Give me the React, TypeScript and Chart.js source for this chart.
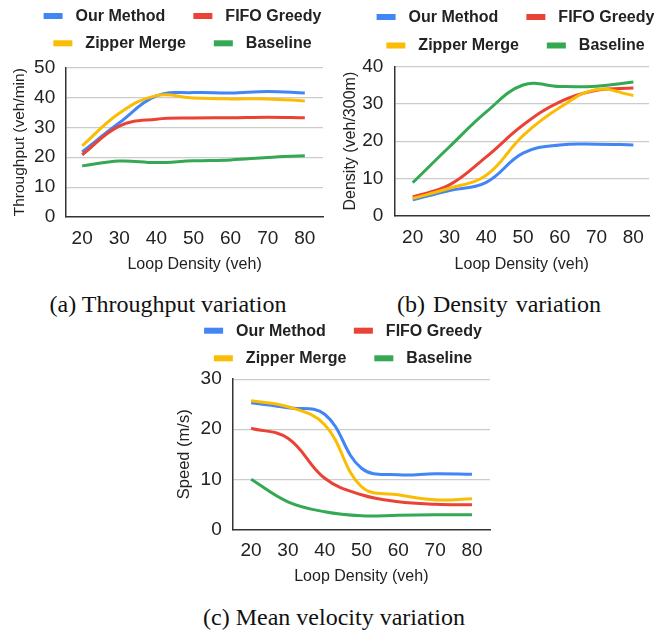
import React, { useEffect, useRef } from "react";
import { Chart, registerables } from "chart.js";

Chart.register(...registerables);

// ---------- data ----------
const loopDensity = [20, 30, 40, 50, 60, 70, 80];
const seriesNames = ["Our Method", "FIFO Greedy", "Zipper Merge", "Baseline"];
const seriesColors = ["#4285F4", "#EA4335", "#FBBC04", "#34A853"];

const throughputOurs = [21.8, 31.5, 40.5, 41.6, 41.5, 42.0, 41.5];
const throughputFifo = [20.8, 30.4, 32.7, 33.1, 33.2, 33.4, 33.2];
const throughputZipper = [23.8, 34.7, 40.6, 39.8, 39.5, 39.5, 38.8];
const throughputBaseline = [17.1, 18.7, 18.2, 18.8, 19.1, 19.9, 20.5];

const densityOurs = [4.3, 6.8, 9.0, 16.8, 19.0, 19.2, 19.0];
const densityFifo = [5.1, 8.3, 15.8, 24.3, 30.5, 33.6, 34.2];
const densityZipper = [4.7, 7.4, 10.9, 21.5, 29.0, 33.8, 32.2];
const densityBaseline = [8.9, 18.5, 27.8, 35.0, 34.6, 34.7, 35.8];

const speedOurs = [25.3, 24.3, 23.0, 12.2, 10.9, 11.1, 11.0];
const speedFifo = [20.2, 18.2, 10.2, 6.9, 5.5, 5.0, 4.9];
const speedZipper = [25.7, 24.5, 20.9, 8.5, 6.9, 5.9, 6.1];
const speedBaseline = [10.0, 5.5, 3.5, 2.7, 2.8, 2.9, 2.9];

const yTicksThroughput = [0, 10, 20, 30, 40, 50];
const yTicksDensity = [0, 10, 20, 30, 40];
const yTicksSpeed = [0, 10, 20, 30];

const xTitle = "Loop Density (veh)";
const captions = ["(a) Throughput variation", "(b) Density variation", "(c) Mean velocity variation"];

// ---------- layout ----------
const SANS = '"Liberation Sans", Arial, Helvetica, sans-serif';
const SERIF = '"Liberation Serif", "Times New Roman", Times, serif';
const TEXT = "#222222";

type Panel = {
  left: number; top: number; w: number; h: number;
  series: number[][];
  yTicks: number[];
  yTitle: string; yTitleSize: number; yTitlePadTop: number;
  areaTop: number; yAxisW: number; xAxisH: number; padRight: number;
  xMin: number; xMax: number; xTickPad: number; xTitlePadBottom: number;
  legendCx: number; legendRows: number[];
};

const panels: Panel[] = [
  {
    left: 0, top: 0, w: 327, h: 279,
    series: [throughputOurs, throughputFifo, throughputZipper, throughputBaseline],
    yTicks: yTicksThroughput,
    yTitle: "Throughput (veh/min)", yTitleSize: 15.5, yTitlePadTop: 10.7,
    areaTop: 67.5, yAxisW: 66.2, xAxisH: 62, padRight: 4,
    xMin: 15.7, xMax: 84.9, xTickPad: 10.5, xTitlePadBottom: 4.4,
    legendCx: 182.5, legendRows: [16, 43.3],
  },
  {
    left: 325, top: 0, w: 329, h: 279,
    series: [densityOurs, densityFifo, densityZipper, densityBaseline],
    yTicks: yTicksDensity,
    yTitle: "Density (veh/300m)", yTitleSize: 16, yTitlePadTop: 16.1,
    areaTop: 66.3, yAxisW: 69.3, xAxisH: 63, padRight: 1,
    xMin: 15.0, xMax: 84.3, xTickPad: 10, xTitlePadBottom: 4.4,
    legendCx: 190.5, legendRows: [17, 45.5],
  },
  {
    left: 150, top: 305, w: 350, h: 285,
    series: [speedOurs, speedFifo, speedZipper, speedBaseline],
    yTicks: yTicksSpeed,
    yTitle: "Speed (m/s)", yTitleSize: 16.5, yTitlePadTop: 24.1,
    areaTop: 74.2, yAxisW: 82.7, xAxisH: 60.7, padRight: 10,
    xMin: 15.0, xMax: 84.9, xTickPad: 10.5, xTitlePadBottom: 3.7,
    legendCx: 193, legendRows: [25.7, 53.3],
  },
];

const BOX_W = 19, BOX_H = 6, BOX_GAP = 13, ITEM_GAP = 28;
const legendRowsIdx = [[0, 1], [2, 3]];

function legendPlugin(p: Panel) {
  return {
    id: "sheetLegend",
    afterDraw(chart: any) {
      const ctx = chart.ctx as CanvasRenderingContext2D;
      ctx.save();
      ctx.font = `bold 16px ${SANS}`;
      ctx.textBaseline = "middle";
      ctx.textAlign = "left";
      legendRowsIdx.forEach((row, ri) => {
        const items = row.map((i) => ({ i, w: ctx.measureText(seriesNames[i]).width }));
        const total =
          items.reduce((s, it) => s + BOX_W + BOX_GAP + it.w, 0) + ITEM_GAP * (items.length - 1);
        let x = p.legendCx - total / 2;
        const y = p.legendRows[ri];
        items.forEach((it) => {
          ctx.fillStyle = seriesColors[it.i];
          ctx.fillRect(x, y - BOX_H / 2, BOX_W, BOX_H);
          x += BOX_W + BOX_GAP;
          ctx.fillStyle = TEXT;
          ctx.fillText(seriesNames[it.i], x, y + 0.5);
          x += it.w + ITEM_GAP;
        });
      });
      ctx.restore();
    },
  };
}

function makeConfig(p: Panel): any {
  const yMax = p.yTicks[p.yTicks.length - 1];
  return {
    type: "line",
    data: {
      datasets: p.series.map((vals, i) => ({
        label: seriesNames[i],
        data: loopDensity.map((x, k) => ({ x, y: vals[k] })),
        borderColor: seriesColors[i],
        backgroundColor: seriesColors[i],
        borderWidth: 3,
        pointRadius: 0,
        pointHoverRadius: 0,
        tension: 0.4,
        fill: false,
        order: 3 - i,
      })),
    },
    options: {
      responsive: false,
      animation: false,
      events: [],
      font: { family: SANS },
      layout: { padding: { top: p.areaTop, left: 0, right: p.padRight, bottom: 0 } },
      plugins: {
        legend: { display: false },
        tooltip: { enabled: false },
        title: { display: false },
      },
      scales: {
        x: {
          type: "linear",
          min: p.xMin,
          max: p.xMax,
          afterBuildTicks: (axis: any) => {
            axis.ticks = loopDensity.map((v) => ({ value: v }));
          },
          afterFit: (s: any) => {
            s.height = p.xAxisH;
          },
          grid: { display: false, drawTicks: false },
          border: { display: true, color: "#333333", width: 1.5 },
          ticks: {
            padding: p.xTickPad,
            font: { size: 19, family: SANS },
            color: TEXT,
            autoSkip: false,
            maxRotation: 0,
          },
          title: {
            display: true,
            text: xTitle,
            font: { size: 16, family: SANS },
            color: TEXT,
            padding: { top: 4, bottom: p.xTitlePadBottom },
          },
        },
        y: {
          min: 0,
          max: yMax,
          afterBuildTicks: (axis: any) => {
            axis.ticks = p.yTicks.map((v) => ({ value: v }));
          },
          afterFit: (s: any) => {
            s.width = p.yAxisW;
          },
          grid: {
            color: (c: any) => (c.tick && c.tick.value === 0 ? "rgba(0,0,0,0)" : "#cccccc"),
            lineWidth: 1.2,
            drawTicks: false,
          },
          border: { display: true, color: "#333333", width: 1.5 },
          ticks: {
            padding: 11,
            font: { size: 19, family: SANS },
            color: TEXT,
          },
          title: {
            display: true,
            text: p.yTitle,
            font: { size: p.yTitleSize, family: SANS },
            color: TEXT,
            padding: { top: p.yTitlePadTop, bottom: 0 },
          },
        },
      },
    },
    plugins: [legendPlugin(p)],
  };
}

function ChartPanel({ p }: { p: Panel }) {
  const ref = useRef<HTMLCanvasElement | null>(null);
  useEffect(() => {
    if (!ref.current) return;
    const chart = new Chart(ref.current, makeConfig(p));
    return () => chart.destroy();
  }, [p]);
  return (
    <canvas
      ref={ref}
      width={p.w}
      height={p.h}
      style={{ position: "absolute", left: p.left, top: p.top, width: p.w, height: p.h }}
    />
  );
}

const captionPos = [
  { cx: 168, cy: 306, ws: 0 },
  { cx: 499, cy: 306, ws: 2 },
  { cx: 334, cy: 619, ws: 0 },
];

export default function App() {
  return (
    <div
      style={{
        position: "absolute",
        left: 0,
        top: 0,
        width: 654,
        height: 633,
        background: "#ffffff",
        overflow: "hidden",
      }}
    >
      {captions.map((t, i) => (
        <div
          key={t}
          style={{
            position: "absolute",
            left: captionPos[i].cx - 160,
            width: 320,
            top: captionPos[i].cy - 16.4,
            height: 28,
            lineHeight: "28px",
            textAlign: "center",
            fontFamily: SERIF,
            fontSize: 24,
            wordSpacing: captionPos[i].ws,
            color: "#111111",
            whiteSpace: "nowrap",
          }}
        >
          {t}
        </div>
      ))}
      {panels.map((p, i) => (
        <ChartPanel key={i} p={p} />
      ))}
    </div>
  );
}
